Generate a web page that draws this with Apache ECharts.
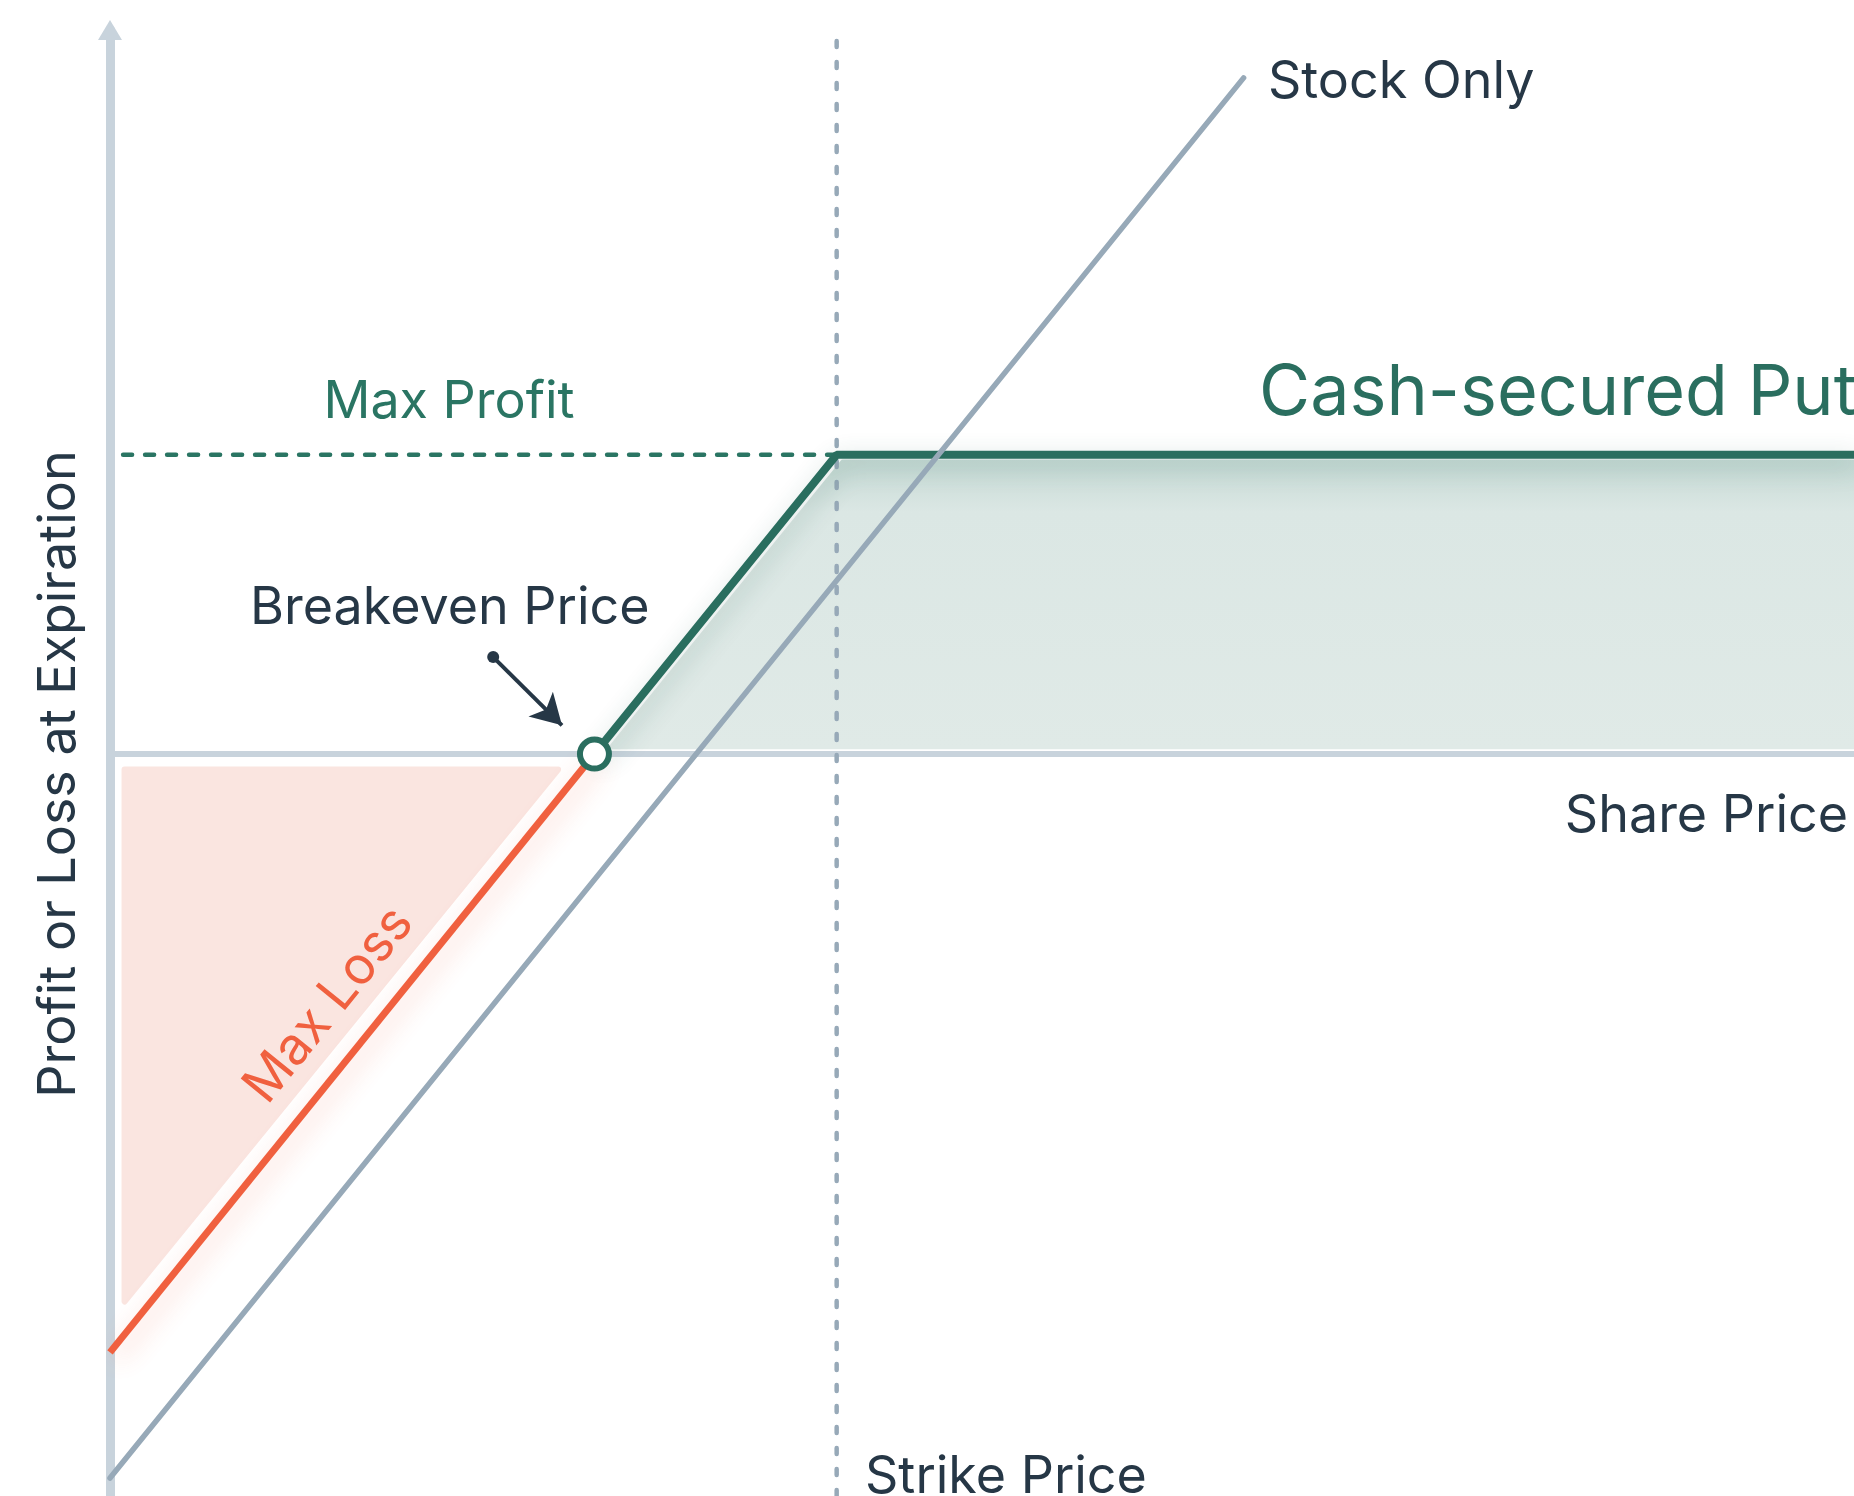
<!DOCTYPE html>
<html>
<head>
<meta charset="utf-8">
<title>Cash-secured Put</title>
<script src="https://cdn.jsdelivr.net/npm/echarts@6/dist/echarts.min.js"></script>
<style>
  html, body { margin: 0; padding: 0; background: #fff; }
  #chart { width: 1854px; height: 1496px; }
</style>
</head>
<body>
<div id="chart"></div>
<script>
// payoff at expiration, strike 15, premium 5 (breakeven 10)
const putLoss = [[0, -10], [10, 0]]
const putProfit = [[10, 0], [15, 5], [36, 5]]
const stockOnly = [[0, -12.1], [23.4, 11.3]]
const strikeLine = [[15, -12.4], [15, 12.05]]
const maxProfitLine = [[0.27, 5], [15, 5]]
const breakeven = [[10, 0]]
const profitArea = [[10.38, 0.13], [15.13, 4.87], [36, 4.87], [36, 0.13]]
const lossArea = [[0.3, -0.26], [9.25, -0.26], [0.3, -9.15]]
const pointer = [[7.91, 1.62], [9.33, 0.48]]

const green = '#2a6e5f'
const red = '#f0603f'
const slate = '#97a9b8'
const ink = '#263746'
const font = 'Inter, "Noto Sans", sans-serif'

const chart = echarts.init(document.getElementById('chart'))

function areaSeries(points, fill, z) {
  return {
    type: 'custom',
    z: z,
    silent: true,
    data: [0],
    renderItem(params, api) {
      return {
        type: 'polygon',
        shape: { points: points.map(p => api.coord(p)) },
        style: { fill: fill, stroke: fill, lineWidth: 6, lineJoin: 'round' }
      }
    }
  }
}

function text(str, x, y, size, color, align, rotation) {
  return {
    type: 'text',
    x: x,
    y: y,
    rotation: rotation || 0,
    z: 100,
    style: {
      text: str,
      font: size + 'px ' + font,
      fill: color,
      textAlign: align || 'left',
      textVerticalAlign: 'middle'
    }
  }
}

chart.setOption({
  animation: false,
  grid: { left: 110, right: 0, top: 30, bottom: 0 },
  xAxis: {
    type: 'value',
    min: 0,
    max: 36,
    splitLine: { show: false },
    axisTick: { show: false },
    axisLabel: { show: false },
    axisLine: { show: true, onZero: true, lineStyle: { color: '#c8d3dc', width: 6 } }
  },
  yAxis: {
    type: 'value',
    min: -12.4,
    max: 12.1,
    splitLine: { show: false },
    axisTick: { show: false },
    axisLabel: { show: false },
    axisLine: {
      show: true,
      symbol: ['none', 'triangle'],
      symbolSize: [24, 20],
      lineStyle: { color: '#c8d3dc', width: 9 }
    }
  },
  series: [
    areaSeries(lossArea, '#fae5e0', 1),
    areaSeries(profitArea, new echarts.graphic.LinearGradient(0, 0, 0, 1, [
      { offset: 0, color: '#c6dad5' },
      { offset: 0.18, color: '#dbe7e4' },
      { offset: 1, color: '#e0eae7' }
    ]), 1),
    {
      type: 'line',
      data: strikeLine,
      symbol: 'none',
      z: 3,
      lineStyle: { color: slate, width: 4.5, type: [6, 15], cap: 'round' }
    },
    {
      type: 'line',
      data: maxProfitLine,
      symbol: 'none',
      z: 3,
      lineStyle: { color: '#2a7563', width: 4.5, type: [9, 13], cap: 'round' }
    },
    {
      type: 'line',
      data: putProfit,
      symbol: 'none',
      z: 4,
      lineStyle: {
        color: green, width: 8,
        shadowColor: 'rgba(40,100,85,0.32)', shadowBlur: 26, shadowOffsetX: 4, shadowOffsetY: 8
      }
    },
    {
      type: 'line',
      data: putLoss,
      symbol: 'none',
      z: 4,
      lineStyle: {
        color: red, width: 7,
        shadowColor: 'rgba(240,96,64,0.32)', shadowBlur: 26, shadowOffsetX: 6, shadowOffsetY: 6
      }
    },
    {
      type: 'line',
      data: stockOnly,
      symbol: 'none',
      z: 5,
      lineStyle: { color: slate, width: 5.5, cap: 'round' }
    },
    {
      type: 'line',
      data: [],
      z: 6,
      markLine: {
        silent: true,
        animation: false,
        label: { show: false },
        lineStyle: { color: ink, width: 4, type: 'solid' },
        data: [[
          { coord: pointer[0], symbol: 'circle', symbolSize: 12 },
          { coord: pointer[1], symbol: 'arrow', symbolSize: [26, 30] }
        ]]
      }
    },
    {
      type: 'scatter',
      data: breakeven,
      z: 7,
      symbol: 'circle',
      symbolSize: 29,
      itemStyle: { color: '#fff', borderColor: green, borderWidth: 6, opacity: 1 }
    }
  ],
  graphic: [
    text('Stock Only', 1268, 82, 52, ink),
    text('Cash-secured Put', 1259, 394, 70, green),
    text('Max Profit', 449, 402, 52, '#2a7563', 'center'),
    text('Breakeven Price', 250, 608, 52, ink),
    text('Share Price', 1848, 816, 52, ink, 'right'),
    text('Strike Price', 865, 1477, 52, ink),
    text('Profit or Loss at Expiration', 59, 774, 52, ink, 'center', Math.PI / 2),
    text('Max Loss', 329, 1005, 52, red, 'center', Math.atan(1.234))
  ]
})
</script>
</body>
</html>
